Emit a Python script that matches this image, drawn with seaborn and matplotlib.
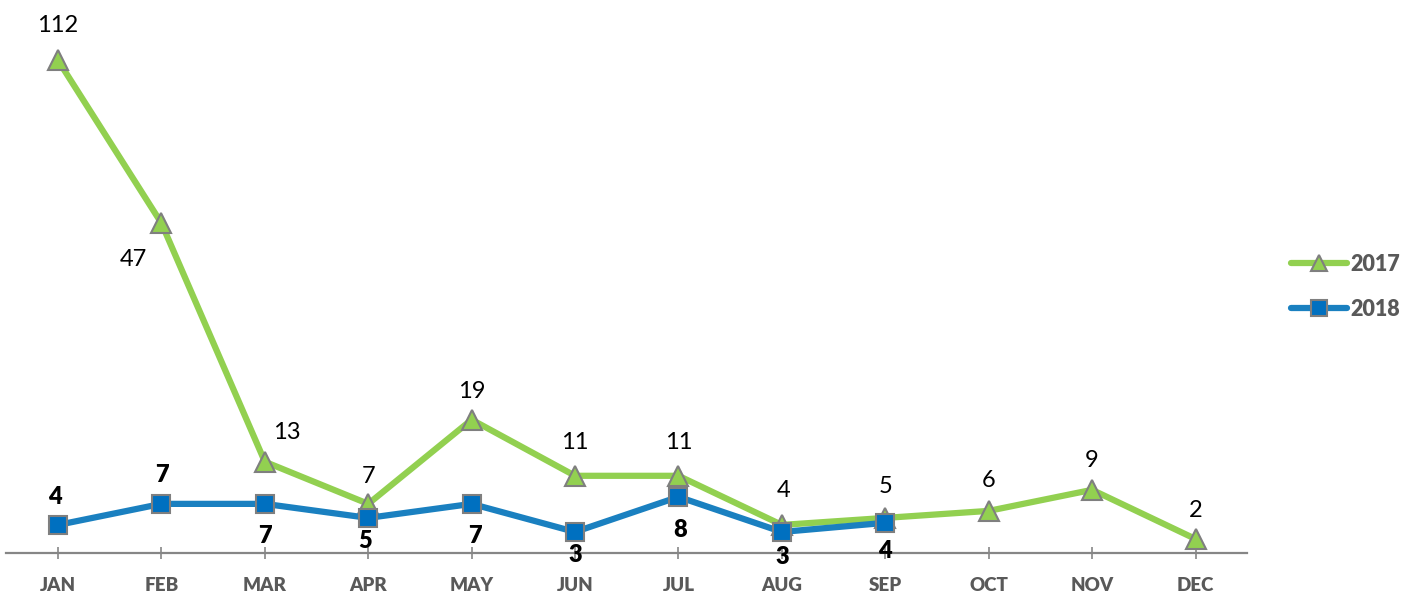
import numpy as np
import pandas as pd
import matplotlib
matplotlib.use("Agg")
import matplotlib.pyplot as plt
from matplotlib.lines import Line2D
import seaborn as sns

# data
months = ["JAN", "FEB", "MAR", "APR", "MAY", "JUN", "JUL", "AUG", "SEP", "OCT", "NOV", "DEC"]
values_2017 = [112, 47, 13, 7, 19, 11, 11, 4, 5, 6, 9, 2]
values_2018 = [4, 7, 7, 5, 7, 3, 8, 3, 4.3]
labels_2018 = [4, 7, 7, 5, 7, 3, 8, 3, 4]

# the source chart draws the JAN 2017 point off-scale (capped near the top)
y_cap = 70.2

# label offsets in pixels (dx, dy), positive dy = up
offsets_2017 = [(0, 35), (-28, -36), (22, 29), (0, 27), (0, 28), (0, 33),
                (0, 33), (2, 34), (0, 31), (0, 30), (0, 29), (0, 28)]
offsets_2018 = [(-3, 28), (0, 29), (0, -32), (-3, -23), (3, -32), (0, -23),
                (2, -33), (0, -25), (0, -28)]

GREEN = "#92D050"
BLUE_LINE = "#1A80C0"
BLUE_FILL = "#0070C0"
EDGE = "#7F7F7F"
TXT = "#595959"

sns.set_theme(style="white")
plt.rcParams["font.family"] = ["Lato", "DejaVu Sans"]

df17 = pd.DataFrame({"x": np.arange(len(months)), "v": np.minimum(values_2017, y_cap)})
df18 = pd.DataFrame({"x": np.arange(len(values_2018)), "v": values_2018})

fig = plt.figure(figsize=(14.08, 5.95), dpi=100)
ax = fig.add_axes([0.0045, 0.0706, 0.8813, 0.9294])

sns.lineplot(data=df17, x="x", y="v", ax=ax, color=GREEN, lw=4.5,
             marker="^", markersize=15, markerfacecolor=GREEN,
             markeredgecolor=EDGE, markeredgewidth=1.5, zorder=2)
sns.lineplot(data=df18, x="x", y="v", ax=ax, color=BLUE_LINE, lw=4.5,
             marker="s", markersize=13, markerfacecolor=BLUE_FILL,
             markeredgecolor=EDGE, markeredgewidth=1.5, zorder=3)

px = 72 / 100
for i, (v, lab) in enumerate(zip(df17["v"], values_2017)):
    dx, dy = offsets_2017[i]
    ax.annotate(str(lab), (i, v), xytext=(dx * px, dy * px), textcoords="offset points",
                ha="center", va="center", fontsize=17, color="black")
for i, (v, lab) in enumerate(zip(values_2018, labels_2018)):
    dx, dy = offsets_2018[i]
    ax.annotate(str(lab), (i, v), xytext=(dx * px, dy * px), textcoords="offset points",
                ha="center", va="center", fontsize=17, fontweight="heavy", color="black")

ax.set_xlim(-0.5, len(months) - 0.5)
ax.set_ylim(0, 78.8)
ax.set_xticks(np.arange(len(months)))
ax.set_xticklabels(months, fontsize=13.5, fontweight="heavy", color=TXT)
ax.set_yticks([])
ax.set_xlabel("")
ax.set_ylabel("")
for side in ["top", "left", "right"]:
    ax.spines[side].set_visible(False)
ax.spines["bottom"].set_color("#868686")
ax.spines["bottom"].set_linewidth(1.6)
ax.tick_params(axis="x", direction="inout", length=8, width=1.2, color="#868686", pad=13,
               bottom=True)

handles = [
    Line2D([], [], color=GREEN, lw=4.5, solid_capstyle="round", marker="^", markersize=12,
           markerfacecolor=GREEN, markeredgecolor=EDGE, markeredgewidth=1.5),
    Line2D([], [], color=BLUE_LINE, lw=4.5, solid_capstyle="round", marker="s", markersize=11,
           markerfacecolor=BLUE_FILL, markeredgecolor=EDGE, markeredgewidth=1.5),
]
leg = fig.legend(handles, ["2017", "2018"], loc="center left", bbox_to_anchor=(0.903, 0.518),
                 frameon=False, handlelength=2.6, handletextpad=0.15, labelspacing=1.1,
                 prop={"size": 15.5, "weight": "heavy"})
for t in leg.get_texts():
    t.set_color(TXT)

fig.savefig("out.png", dpi=100)
